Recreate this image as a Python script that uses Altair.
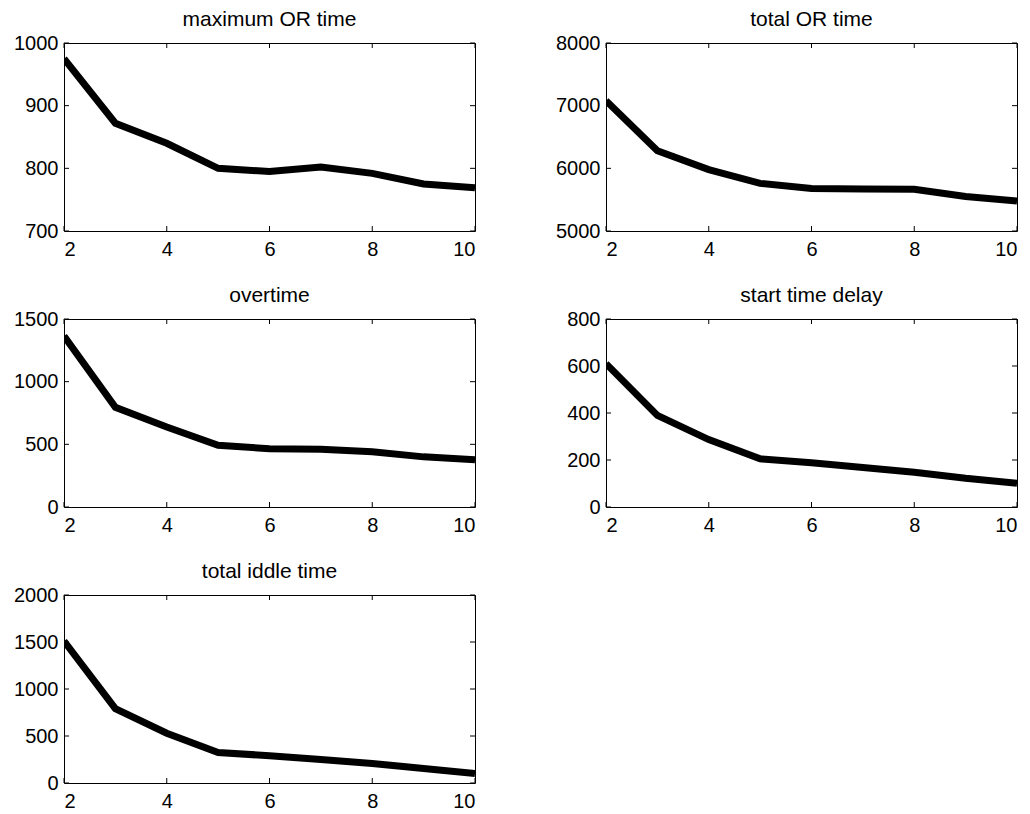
import altair as alt
import pandas as pd

x_vals = [2, 3, 4, 5, 6, 7, 8, 9, 10]

titles = ["maximum OR time", "total OR time", "overtime", "start time delay", "total iddle time"]

max_or_time = [975, 872, 840, 800, 795, 802, 792, 775, 769]
total_or_time = [7080, 6280, 5980, 5760, 5680, 5672, 5665, 5550, 5480]
overtime = [1365, 795, 638, 492, 465, 460, 440, 400, 376]
start_delay = [610, 390, 287, 205, 188, 168, 148, 122, 101]
idle_time = [1510, 790, 530, 325, 290, 250, 208, 155, 100]

series = [max_or_time, total_or_time, overtime, start_delay, idle_time]
y_domains = [[700, 1000], [5000, 8000], [0, 1500], [0, 800], [0, 2000]]
y_ticks = [[700, 800, 900, 1000], [5000, 6000, 7000, 8000], [0, 500, 1000, 1500],
           [0, 200, 400, 600, 800], [0, 500, 1000, 1500, 2000]]
x_ticks = [2, 4, 6, 8, 10]

W, H, TL = 411, 188, 5
FONT = "Liberation Sans"


def panel(i):
    df = pd.DataFrame({"x": x_vals, "y": series[i]})
    xs = alt.Scale(domain=[2, 10], nice=False, zero=False)
    ys = alt.Scale(domain=y_domains[i], nice=False, zero=False)
    xa = alt.Axis(values=x_ticks, format="d", ticks=False, domain=False,
                  grid=False, labelPadding=8)
    ya = alt.Axis(values=y_ticks[i], format="d", ticks=False, domain=False,
                  grid=False, labelPadding=6)
    line = alt.Chart(df).mark_line(color="black", strokeWidth=7, clip=True).encode(
        x=alt.X("x:Q", scale=xs, title=None, axis=xa),
        y=alt.Y("y:Q", scale=ys, title=None, axis=ya),
    )
    xt = pd.DataFrame({"x": x_ticks})
    yt = pd.DataFrame({"y": y_ticks[i]})
    xtop = alt.Chart(xt).mark_rule(color="black", strokeWidth=1).encode(
        x=alt.X("x:Q", scale=xs, title=None, axis=xa), y=alt.value(0), y2=alt.value(TL))
    xbot = alt.Chart(xt).mark_rule(color="black", strokeWidth=1).encode(
        x=alt.X("x:Q", scale=xs, title=None, axis=xa), y=alt.value(H - TL), y2=alt.value(H))
    yl = alt.Chart(yt).mark_rule(color="black", strokeWidth=1).encode(
        y=alt.Y("y:Q", scale=ys, title=None, axis=ya), x=alt.value(0), x2=alt.value(TL))
    yr = alt.Chart(yt).mark_rule(color="black", strokeWidth=1).encode(
        y=alt.Y("y:Q", scale=ys, title=None, axis=ya), x=alt.value(W - TL), x2=alt.value(W))
    return alt.layer(line, xtop, xbot, yl, yr).properties(
        width=W, height=H,
        title=alt.TitleParams(titles[i], font=FONT, fontSize=21, fontWeight="normal",
                              color="black", offset=3, frame="group"),
    )


p = [panel(i) for i in range(5)]
chart = alt.concat(
    *p, columns=2, spacing=alt.RowColnumber(row=88, column=131), bounds="flush"
).configure_view(
    stroke="black", strokeWidth=1
).configure_axis(
    labelFont=FONT, labelFontSize=20, labelColor="black"
).properties(padding={"left": 5, "top": 0, "right": 0, "bottom": 0}, background="white")

chart.save("out.html", embed_options={"renderer": "svg", "actions": False})
